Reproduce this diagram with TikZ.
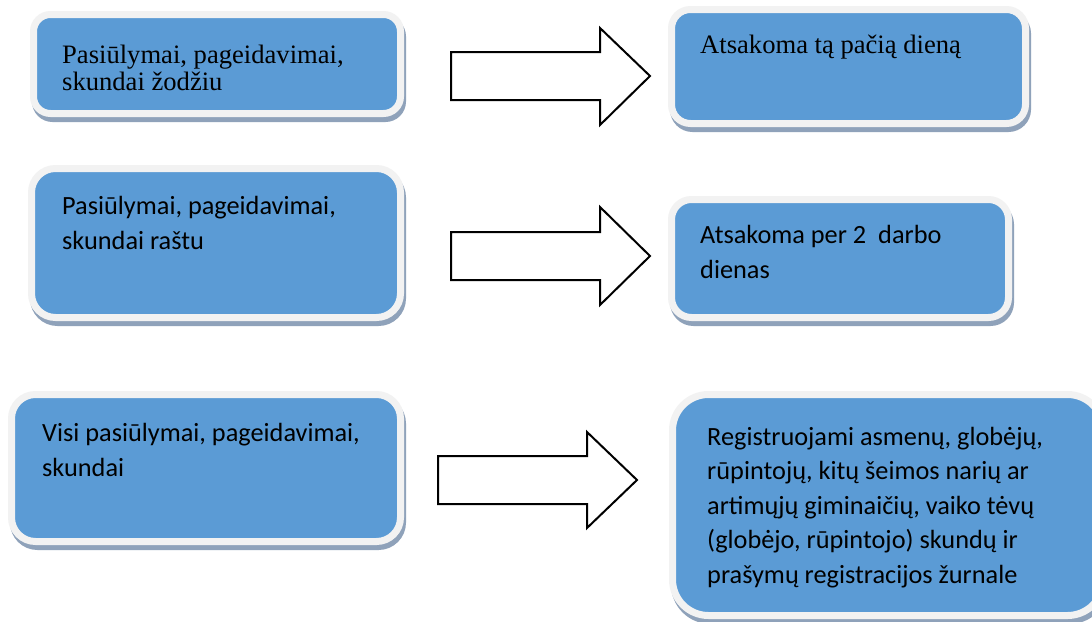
\documentclass[tikz,border=0pt]{standalone}
\usepackage{fontspec}
\setmainfont{Liberation Serif}
\newfontfamily\calibri{Carlito}
\pgfdeclarelayer{shadowlayer}
\pgfsetlayers{shadowlayer,main}
\definecolor{boxblue}{RGB}{91,155,213}
\definecolor{borderc}{RGB}{242,242,242}
\definecolor{shadowc}{RGB}{143,162,186}
\tikzset{
  box/.style={rectangle, draw=borderc, line width=7pt, fill=boxblue, inner sep=0pt, outer sep=0pt},
  shadowbox/.style={draw=shadowc, fill=shadowc, line width=7pt},
  txtserif/.style={anchor=base west, align=left, inner sep=0pt, text=black, font=\fontsize{26.6pt}{27pt}\selectfont},
  txtsans/.style={anchor=base west, align=left, inner sep=0pt, text=black, font=\calibri\fontsize{26.3pt}{34.5pt}\selectfont},
  blockarrow/.style={draw=black, line width=2pt, fill=white, line join=miter}
}
\begin{document}
\begin{tikzpicture}[x=1pt,y=-1pt]
\useasboundingbox (0,0) rectangle (1092,621);
% boxes
\node[box, rounded corners=17pt, minimum width=367pt, minimum height=99pt] (b1) at (217,64) {};
\node[box, rounded corners=24pt, minimum width=369pt, minimum height=149pt] (b2) at (216,243) {};
\node[box, rounded corners=24pt, minimum width=389pt, minimum height=147pt] (b3) at (206,468) {};
\node[box, rounded corners=19pt, minimum width=354pt, minimum height=114pt] (b4) at (848.5,66.5) {};
\node[box, rounded corners=20pt, minimum width=337pt, minimum height=118pt] (b5) at (840,258.5) {};
\node[box, rounded corners=36pt, minimum width=431pt, minimum height=221pt] (b6) at (888,505) {};
% shadows
\begin{pgfonlayer}{shadowlayer}
\fill[white] (0,0) rectangle (1092,621);
\foreach \b/\r in {b1/17,b2/24,b3/24,b4/19,b5/20,b6/36}{
  \draw[shadowbox, rounded corners=\r pt] ([shift={(2,5)}]\b.south west) rectangle ([shift={(2,5)}]\b.north east);
}
\end{pgfonlayer}
% texts (anchor at baseline of last line)
\node[txtserif] (t1) at (62,90) {Pasiūlymai, pageidavimai,\\skundai žodžiu};
\node[txtsans] (t2) at (62,249) {Pasiūlymai, pageidavimai,\\skundai raštu};
\node[txtsans] (t3) at (42,476) {Visi pasiūlymai, pageidavimai,\\skundai};
\node[txtserif] (t4) at (700,53) {Atsakoma tą pačią dieną};
\node[txtsans] (t5) at (700,278) {Atsakoma per 2\ \ darbo\\dienas};
\node[txtsans] (t6) at (707,583) {Registruojami asmenų, globėjų,\\rūpintojų, kitų šeimos narių ar\\artimųjų giminaičių, vaiko tėvų\\(globėjo, rūpintojo) skundų ir\\prašymų registracijos žurnale};
% block arrows
\draw[blockarrow] (451,52) -- (600,52) -- (600,28) -- (650,76) -- (600,125) -- (600,100) -- (451,100) -- cycle;
\draw[blockarrow] (451,232) -- (600,232) -- (600,207) -- (650,256) -- (600,305) -- (600,280) -- (451,280) -- cycle;
\draw[blockarrow] (438,456) -- (587,456) -- (587,432) -- (637,480) -- (587,528) -- (587,504) -- (438,504) -- cycle;
\end{tikzpicture}
\end{document}
